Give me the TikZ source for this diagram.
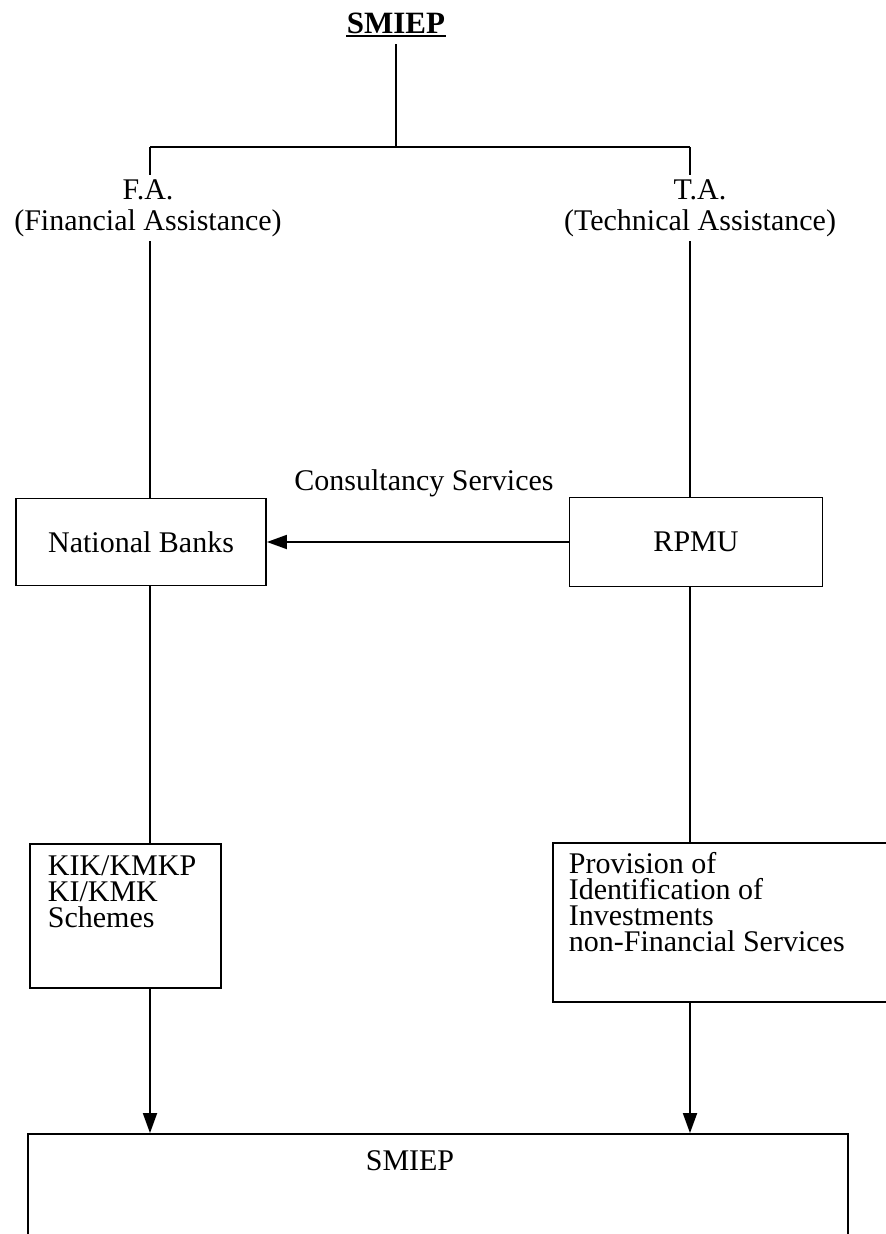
\documentclass[tikz,border=0pt]{standalone}
\usepackage{fontspec}
\setmainfont{Liberation Serif}
\usetikzlibrary{arrows.meta}

\begin{document}
\begin{tikzpicture}[x=1pt,y=-1pt,line width=1.8pt,
    every node/.style={font=\fontsize{30}{22}\selectfont},
    blk/.style={draw,inner sep=0pt},
    txt/.style={anchor=north west,inner sep=0pt,align=left},
    arr/.style={-{Triangle[length=20pt,width=14pt]}}]
        \useasboundingbox (0,0) rectangle (886,1234);

        % heading and the fork below it
        \node[font=\fontsize{31}{31}\selectfont\bfseries,anchor=base,inner xsep=0pt,inner ysep=10pt] (title) at (396,33) {SMIEP};
        \draw[line width=2pt] ([yshift=-3pt]title.base west) -- ([yshift=-3pt]title.base east);
        \coordinate (fork-l) at (150,147);
        \coordinate (fork-r) at (690,147);
        \draw (title.south) -- (title.south |- fork-l);
        \draw (fork-l) -- (fork-r);

        % the two kinds of assistance
        \node[align=center,font=\fontsize{30}{31}\selectfont,inner sep=4pt] (fa) at (148,208) {F.A.\\(Financial Assistance)};
        \node[align=center,font=\fontsize{30}{31}\selectfont,inner sep=4pt] (ta) at (700,208) {T.A.\\(Technical Assistance)};
        \draw (fork-l) -- (fork-l |- fa.north);
        \draw (fork-r) -- (fork-r |- ta.north);

        % the two boxes in the middle
        \node[blk,minimum width=250pt,minimum height=87pt] (nb) at (141,542) {National Banks};
        \node[blk,minimum width=253pt,minimum height=89pt] (rpmu) at (696,542) {RPMU};
        \node[anchor=base] (cons) at (424,490) {Consultancy Services};
        \draw (fa.south -| fork-l) -- (nb.north -| fork-l);
        \draw (ta.south -| fork-r) -- (rpmu.north -| fork-r);
        \draw[arr] (rpmu) -- (nb);

        % the schemes and services
        \node[blk,minimum width=191pt,minimum height=144pt] (kik) at (125.5,916) {};
        \node[txt,font=\fontsize{30}{26}\selectfont] (kiktext) at (47,855) {KIK/KMKP\\KI/KMK\\Schemes};
        \node[blk,minimum width=352pt,minimum height=159pt] (prov) at (729,922.5) {};
        \node[txt,font=\fontsize{30}{26}\selectfont] (provtext) at (568,851) {Provision of\\Identification of\\Investments\\non-Financial Services};
        \draw (nb.south -| fork-l) -- (kik.north -| fork-l);
        \draw (rpmu.south -| fork-r) -- (prov.north -| fork-r);

        % both lead down into the programme
        \node[blk,minimum width=820pt,minimum height=116pt] (smiep) at (438,1192) {};
        \node[anchor=base] (smieptext) at (410,1170) {SMIEP};
        \draw[arr] (kik.south -| fork-l) -- (smiep.north -| fork-l);
        \draw[arr] (prov.south -| fork-r) -- (smiep.north -| fork-r);
\end{tikzpicture}
\end{document}
